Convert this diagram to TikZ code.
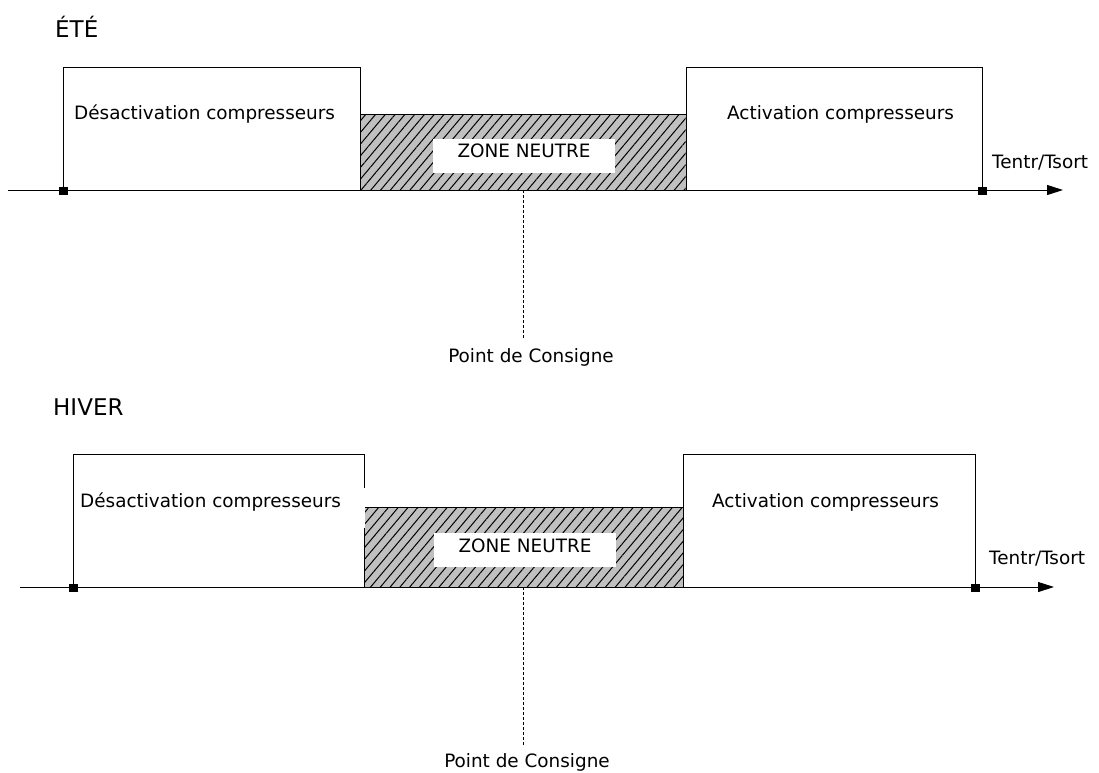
\documentclass[tikz,border=0pt]{standalone}
\usepackage{fontspec}
\setmainfont{DejaVu Sans}
\usetikzlibrary{arrows.meta,patterns.meta}
\definecolor{hatchgray}{RGB}{192,192,192}

\tikzset{
  zonebox/.style={draw=black, line width=1pt, fill=white, inner sep=0pt},
  hatchzone/.style={inner sep=0pt, fill=hatchgray,
    postaction={pattern={Lines[angle=50,distance=7.5pt,line width=1pt]}}},
  edge/.style={draw=black, line width=1pt},
  whitetag/.style={fill=white, inner sep=0pt, minimum width=182pt, minimum height=34pt,
    font=\fontsize{18.4}{22}\selectfont, text height=13pt},
  endsq/.style={fill=black, inner sep=0pt, minimum width=9pt, minimum height=8pt},
  axis/.style={line width=1pt, -{Triangle[length=16pt,width=10pt]}},
  setline/.style={line width=0.9pt, dash pattern=on 3pt off 2pt},
  lbl/.style={inner sep=0pt, anchor=base west, font=\fontsize{18.4}{22}\selectfont},
  ctrlbl/.style={inner sep=0pt, anchor=base, font=\fontsize{18.4}{22}\selectfont},
  title/.style={inner sep=0pt, anchor=base west, font=\fontsize{23}{27}\selectfont},
}

\begin{document}
\begin{tikzpicture}[x=1pt,y=-1pt]
\useasboundingbox (0,0) rectangle (1099,772);

% ---------- summer operation ----------
\node[title] (ete) at (55,37) {ÉTÉ};

\node[zonebox, minimum width=297pt, minimum height=123pt] (off1) at (211.5,128.5) {};
\node[zonebox, minimum width=296pt, minimum height=123pt] (on1) at (834,128.5) {};
\node[hatchzone, minimum width=325pt, minimum height=75pt] (nz1) at (523,152.5) {};
\draw[edge] (off1.east |- nz1.north) -- (on1.west |- nz1.north);
\node[whitetag, text depth=10.5pt] (zn1) at (524,156) {ZONE NEUTRE};

\coordinate (ax1s) at (8,190);
\coordinate (ax1e) at (1063,190);
\draw[axis] (ax1s) -- (ax1e);
\node[endsq] (sq1a) at (63,190.5) {};
\node[endsq] (sq1b) at (982.5,190.5) {};

\node[lbl] (desac1) at (74,119) {Désactivation compresseurs};
\node[lbl] (act1) at (727,119) {Activation compresseurs};
\node[lbl] (temp1) at (992,168) {Tentr/Tsort};

\coordinate (sp1) at (523,190);
\coordinate (sp1end) at (523,338);
\draw[setline] (sp1) -- (sp1end);
\node[ctrlbl] (cons1) at (531,362) {Point de Consigne};

% ---------- winter operation ----------
\node[title] (hiver) at (53,415) {HIVER};

\node[zonebox, minimum width=291pt, minimum height=133pt] (off2) at (218.5,520.5) {};
\node[zonebox, minimum width=292pt, minimum height=133pt] (on2) at (829,520.5) {};
\node[fill=white, inner sep=0pt, minimum width=8pt, minimum height=40pt] (gap2) at (360.5,508) {};
\node[hatchzone, minimum width=318pt, minimum height=79pt] (nz2) at (524,547.5) {};
\draw[edge] (off2.east |- nz2.north) -- (on2.west |- nz2.north);
\node[whitetag, text depth=9pt] (zn2) at (525,550) {ZONE NEUTRE};

\coordinate (ax2s) at (20,587);
\coordinate (ax2e) at (1054,587);
\draw[axis] (ax2s) -- (ax2e);
\node[endsq] (sq2a) at (73,587.5) {};
\node[endsq] (sq2b) at (975,587.5) {};

\node[lbl] (desac2) at (80,507) {Désactivation compresseurs};
\node[lbl] (act2) at (712,507) {Activation compresseurs};
\node[lbl] (temp2) at (989,564) {Tentr/Tsort};

\coordinate (sp2) at (523,587);
\coordinate (sp2end) at (523,745);
\draw[setline] (sp2) -- (sp2end);
\node[ctrlbl] (cons2) at (527,767) {Point de Consigne};
\end{tikzpicture}
\end{document}
